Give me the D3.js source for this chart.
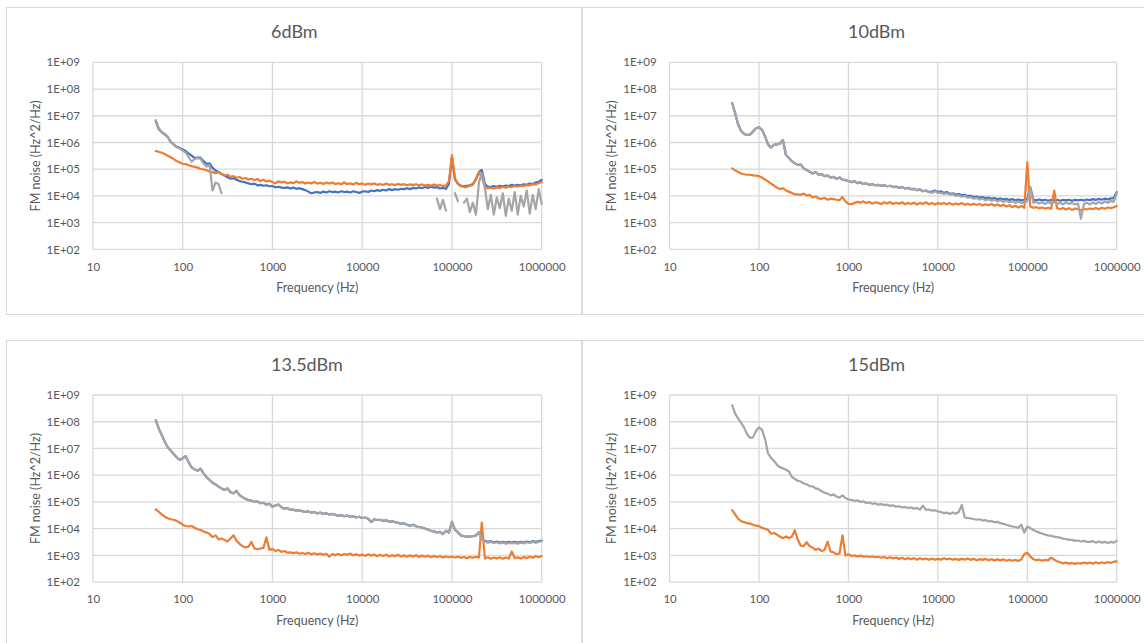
<!DOCTYPE html>
<html lang="en">
<head>
    <meta charset="UTF-8">
    <title>FM noise</title>
    <script src="https://d3js.org/d3.v7.min.js" type="text/JavaScript"></script>
    <style>
        body { margin: 0; background: #fff; }
        text { font-family: Lato, "Open Sans", sans-serif; fill: #595959; }
    </style>
</head>
<body>
<svg height="643" id="noise-chart" width="1144"></svg>
<script>
    // frequency grid (Hz), shared by every trace
    var freq = [
        50.1, 54.1, 58.5, 63.1, 68.1, 73.6, 79.4, 85.8, 92.6, 100,
        108, 117, 126, 136, 147, 158, 171, 185, 200, 215,
        233, 251, 271, 293, 316, 341, 369, 398, 430, 464,
        501, 541, 584, 631, 681, 736, 794, 858, 926, 1000,
        1080, 1170, 1260, 1360, 1470, 1580, 1710, 1850, 2000, 2150,
        2330, 2510, 2710, 2930, 3160, 3410, 3690, 3980, 4300, 4640,
        5010, 5410, 5840, 6310, 6810, 7360, 7940, 8580, 9260, 10000,
        10800, 11700, 12600, 13600, 14700, 15800, 17100, 18500, 20000, 21500,
        23300, 25100, 27100, 29300, 31600, 34100, 36900, 39800, 43000, 46400,
        50100, 54100, 58400, 63100, 68100, 73600, 79400, 85800, 92600, 100000,
        108000, 117000, 126000, 136000, 147000, 158000, 171000, 185000, 200000, 215000,
        233000, 251000, 271000, 293000, 316000, 341000, 369000, 398000, 430000, 464000,
        501000, 541000, 584000, 631000, 681000, 736000, 794000, 858000, 926000, 1000000
    ];

    var tickX = [10, 100, 1000, 10000, 100000, 1000000];
    var tickY = [1e2, 1e3, 1e4, 1e5, 1e6, 1e7, 1e8, 1e9];
    var titles = ['6dBm', '10dBm', '13.5dBm', '15dBm'];

    // ---- 6dBm ----
    var blue6 = [
        6.3e6, 3.2e6, 2.4e6, 2.0e6, 1.6e6, 1.05e6, 8.5e5, 6.9e5, 6.3e5, 5.5e5,
        4.8e5, 3.8e5, 3.2e5, 2.6e5, 2.75e5, 2.7e5, 2.0e5, 1.6e5, 1.65e5, 1.12e5,
        8.9e4, 7.9e4, 6.6e4, 5.8e4, 5.0e4, 4.4e4, 4.6e4, 4.0e4, 3.6e4, 3.4e4,
        3.2e4, 2.95e4, 2.75e4, 2.9e4, 2.5e4, 2.6e4, 2.4e4, 2.5e4, 2.3e4, 2.35e4,
        2.1e4, 2.2e4, 2.05e4, 2.0e4, 2.1e4, 1.9e4, 2.05e4, 1.85e4, 1.95e4, 1.8e4,
        1.65e4, 1.45e4, 1.26e4, 1.35e4, 1.4e4, 1.3e4, 1.45e4, 1.35e4, 1.5e4, 1.4e4,
        1.45e4, 1.35e4, 1.5e4, 1.4e4, 1.45e4, 1.35e4, 1.5e4, 1.4e4, 1.3e4, 1.45e4,
        1.5e4, 1.4e4, 1.6e4, 1.5e4, 1.65e4, 1.55e4, 1.7e4, 1.6e4, 1.8e4, 1.65e4,
        1.8e4, 1.7e4, 1.85e4, 1.8e4, 1.95e4, 1.8e4, 2.0e4, 1.9e4, 2.1e4, 1.95e4,
        2.15e4, 2.0e4, 2.2e4, 2.05e4, 2.15e4, 1.9e4, 2.0e4, 1.85e4, 2.8e4, 2.8e5,
        4.2e4, 2.8e4, 2.4e4, 2.3e4, 2.4e4, 2.5e4, 2.8e4, 4.2e4, 7.9e4, 9.5e4,
        2.8e4, 2.2e4, 2.2e4, 2.35e4, 2.2e4, 2.4e4, 2.3e4, 2.45e4, 2.35e4, 2.6e4,
        2.45e4, 2.6e4, 2.5e4, 2.75e4, 2.6e4, 2.9e4, 2.8e4, 3.2e4, 3.4e4, 4.0e4
    ];
    var orange6 = [
        4.8e5, 4.5e5, 4.1e5, 3.7e5, 3.2e5, 2.8e5, 2.4e5, 2.0e5, 1.8e5, 1.6e5,
        1.55e5, 1.4e5, 1.3e5, 1.23e5, 1.15e5, 1.02e5, 9.8e4, 9.1e4, 8.1e4, 7.8e4,
        7.1e4, 7.8e4, 6.5e4, 5.8e4, 6.2e4, 5.2e4, 5.5e4, 4.8e4, 5.1e4, 4.4e4,
        4.7e4, 4.1e4, 4.4e4, 3.9e4, 4.3e4, 3.6e4, 4.0e4, 3.5e4, 3.7e4, 3.3e4,
        2.95e4, 3.55e4, 3.2e4, 3.4e4, 2.95e4, 3.2e4, 3.0e4, 3.5e4, 3.1e4, 3.3e4,
        2.9e4, 3.2e4, 2.95e4, 3.3e4, 2.9e4, 3.1e4, 2.8e4, 3.2e4, 2.9e4, 3.2e4,
        2.8e4, 3.0e4, 2.75e4, 3.2e4, 2.8e4, 2.95e4, 2.7e4, 3.1e4, 2.75e4, 2.95e4,
        2.6e4, 2.9e4, 2.7e4, 2.95e4, 2.6e4, 2.8e4, 2.55e4, 2.9e4, 2.6e4, 2.75e4,
        2.55e4, 2.8e4, 2.6e4, 2.75e4, 2.5e4, 2.7e4, 2.55e4, 2.75e4, 2.5e4, 2.7e4,
        2.45e4, 2.6e4, 2.4e4, 2.7e4, 2.45e4, 2.55e4, 2.35e4, 2.5e4, 3.5e4, 3.4e5,
        4.6e4, 2.75e4, 2.3e4, 2.15e4, 2.2e4, 2.4e4, 2.6e4, 4.2e4, 7.8e4, 5.0e4,
        2.2e4, 1.95e4, 2.05e4, 1.9e4, 2.1e4, 2.0e4, 2.2e4, 2.05e4, 2.25e4, 2.15e4,
        2.35e4, 2.25e4, 2.45e4, 2.35e4, 2.55e4, 2.5e4, 2.75e4, 2.7e4, 3.0e4, 3.3e4
    ];
    var gray6 = [
        6.9e6, 3.5e6, 2.5e6, 2.1e6, 1.7e6, 1.05e6, 8.3e5, 6.6e5, 6.0e5, 5.0e5,
        4.2e5, 2.8e5, 1.9e5, 2.4e5, 2.6e5, 2.5e5, 1.6e5, 1.26e5, 1.4e5, 1.6e4,
        3.2e4, 2.8e4, 1.26e4, null, null, null, null, null, null, null,
        null, null, null, null, null, null, null, null, null, null,
        null, null, null, null, null, null, null, null, null, null,
        null, null, null, null, null, null, null, null, null, null,
        null, null, null, null, null, null, null, null, null, null,
        null, null, null, null, null, null, null, null, null, null,
        null, null, null, null, null, null, null, null, null, null,
        null, null, null, null, 7.9e3, 3.2e3, 7.1e3, 2.8e3, null, null,
        1.26e4, 6.3e3, null, 5.6e3, 7.9e3, 2.5e3, 5.6e3, 2.0e3, 3.2e4, 7.1e4,
        2.0e4, 3.2e3, 1.1e4, 2.0e3, 8.9e3, 3.5e3, 1.26e4, 1.8e3, 7.9e3, 2.8e3,
        1.4e4, 2.0e3, 1.0e4, 4.0e3, 1.6e4, 2.2e3, 1.1e4, 3.2e3, 1.8e4, 5.0e3
    ];

    // ---- 10dBm ----
    var blue10 = [
        3.0e7, 1.23e7, 4.6e6, 2.7e6, 2.1e6, 1.9e6, 2.0e6, 2.6e6, 3.4e6, 3.7e6,
        3.0e6, 1.66e6, 8.5e5, 6.5e5, 8.1e5, 8.5e5, 9.1e5, 1.23e6, 3.4e5, 2.7e5,
        2.0e5, 1.66e5, 1.45e5, 1.5e5, 1.07e5, 9.3e4, 8.1e4, 6.9e4, 7.8e4, 6.2e4,
        6.5e4, 5.5e4, 5.8e4, 4.9e4, 5.2e4, 4.4e4, 4.9e4, 4.1e4, 3.9e4, 3.6e4,
        3.3e4, 3.55e4, 3.0e4, 3.2e4, 2.8e4, 2.95e4, 2.6e4, 2.75e4, 2.5e4, 2.6e4,
        2.4e4, 2.5e4, 2.3e4, 2.4e4, 2.15e4, 2.25e4, 2.0e4, 2.15e4, 1.9e4, 2.0e4,
        1.8e4, 1.85e4, 1.65e4, 1.75e4, 1.5e4, 1.6e4, 1.4e4, 1.45e4, 1.6e4, 1.4e4,
        1.5e4, 1.3e4, 1.4e4, 1.2e4, 1.26e4, 1.12e4, 1.17e4, 1.05e4, 1.1e4, 9.8e3,
        1.02e4, 9.1e3, 9.5e3, 8.7e3, 9.1e3, 8.3e3, 8.7e3, 7.9e3, 8.3e3, 7.6e3,
        7.9e3, 7.4e3, 7.8e3, 7.1e3, 7.6e3, 6.9e3, 7.4e3, 6.8e3, 7.2e3, 7.9e3,
        2.1e4, 7.2e3, 6.9e3, 7.4e3, 6.8e3, 7.2e3, 6.6e3, 7.1e3, 6.8e3, 7.2e3,
        6.6e3, 7.1e3, 6.8e3, 7.2e3, 6.6e3, 7.1e3, 6.9e3, 7.2e3, 6.8e3, 7.4e3,
        6.9e3, 7.6e3, 7.1e3, 7.8e3, 7.2e3, 7.9e3, 7.4e3, 8.1e3, 8.3e3, 1.4e4
    ];
    var orange10 = [
        1.07e5, 9.1e4, 7.8e4, 6.9e4, 6.5e4, 6.2e4, 6.2e4, 5.9e4, 5.8e4, 5.5e4,
        4.9e4, 4.1e4, 3.5e4, 2.9e4, 2.45e4, 2.05e4, 1.8e4, 1.95e4, 1.6e4, 1.45e4,
        1.3e4, 1.15e4, 1.15e4, 1.1e4, 1.23e4, 1.02e4, 1.1e4, 8.7e3, 9.5e3, 8.1e3,
        7.8e3, 8.5e3, 7.2e3, 7.9e3, 7.6e3, 7.2e3, 6.9e3, 9.1e3, 6.2e3, 5.1e3,
        4.9e3, 5.5e3, 6.0e3, 5.6e3, 6.3e3, 5.4e3, 6.0e3, 5.1e3, 5.8e3, 5.5e3,
        5.0e3, 5.8e3, 5.2e3, 5.9e3, 5.0e3, 5.6e3, 5.1e3, 5.8e3, 4.9e3, 5.5e3,
        5.0e3, 5.6e3, 4.8e3, 5.5e3, 5.0e3, 5.8e3, 4.9e3, 5.5e3, 4.8e3, 5.4e3,
        5.0e3, 5.5e3, 4.9e3, 5.4e3, 4.7e3, 5.2e3, 4.8e3, 5.4e3, 4.7e3, 5.1e3,
        4.6e3, 5.1e3, 4.7e3, 5.0e3, 4.4e3, 4.9e3, 4.5e3, 5.0e3, 4.3e3, 4.8e3,
        4.2e3, 4.7e3, 4.0e3, 4.5e3, 3.8e3, 4.3e3, 3.7e3, 4.2e3, 3.6e3, 1.8e5,
        4.0e3, 3.6e3, 3.8e3, 3.5e3, 3.7e3, 3.4e3, 3.6e3, 3.3e3, 1.6e4, 3.55e3,
        3.2e3, 3.55e3, 3.1e3, 3.5e3, 3.0e3, 3.4e3, 3.2e3, 2.9e3, 3.3e3, 3.1e3,
        3.4e3, 3.2e3, 3.55e3, 3.2e3, 3.6e3, 3.3e3, 3.7e3, 3.5e3, 3.8e3, 4.2e3
    ];
    var gray10 = [
        3.0e7, 1.23e7, 4.6e6, 2.7e6, 2.1e6, 1.9e6, 2.0e6, 2.6e6, 3.4e6, 3.7e6,
        3.0e6, 1.66e6, 8.5e5, 6.5e5, 8.1e5, 8.5e5, 9.1e5, 1.23e6, 3.4e5, 2.7e5,
        2.0e5, 1.66e5, 1.45e5, 1.5e5, 1.07e5, 9.3e4, 8.1e4, 6.9e4, 7.8e4, 6.2e4,
        6.5e4, 5.5e4, 5.8e4, 4.9e4, 5.2e4, 4.4e4, 4.9e4, 4.1e4, 3.9e4, 3.6e4,
        3.3e4, 3.55e4, 3.0e4, 3.2e4, 2.8e4, 2.95e4, 2.6e4, 2.75e4, 2.5e4, 2.6e4,
        2.4e4, 2.5e4, 2.3e4, 2.4e4, 2.15e4, 2.25e4, 2.0e4, 2.15e4, 1.9e4, 2.0e4,
        1.8e4, 1.85e4, 1.65e4, 1.75e4, 1.5e4, 1.6e4, 1.4e4, 1.3e4, 1.5e4, 1.3e4,
        1.3e4, 1.2e4, 1.26e4, 1.12e4, 1.17e4, 1.0e4, 1.07e4, 9.3e3, 1.0e4, 8.7e3,
        9.1e3, 7.9e3, 8.5e3, 7.4e3, 7.9e3, 6.9e3, 7.6e3, 6.6e3, 7.2e3, 6.3e3,
        6.9e3, 6.0e3, 6.6e3, 5.8e3, 6.3e3, 5.5e3, 6.2e3, 5.4e3, 5.9e3, 6.3e3,
        2.0e4, 5.6e3, 6.0e3, 5.2e3, 5.8e3, 5.0e3, 5.9e3, 5.2e3, 6.0e3, 5.0e3,
        5.6e3, 4.8e3, 5.8e3, 5.0e3, 5.5e3, 4.8e3, 5.2e3, 1.4e3, 5.0e3, 5.6e3,
        4.8e3, 5.8e3, 5.0e3, 6.0e3, 5.2e3, 6.3e3, 5.5e3, 6.6e3, 6.0e3, 1.3e4
    ];

    // ---- 13.5dBm ----
    var blue13 = [
        1.15e8, 5.6e7, 3.2e7, 1.8e7, 1.1e7, 8.3e6, 6.2e6, 4.7e6, 3.7e6, 4.3e6,
        5.2e6, 3.0e6, 1.95e6, 1.65e6, 1.45e6, 1.75e6, 1.17e6, 8.3e5, 6.6e5, 5.2e5,
        4.5e5, 3.7e5, 3.2e5, 2.8e5, 3.2e5, 2.3e5, 2.1e5, 2.6e5, 1.8e5, 1.5e5,
        1.3e5, 1.17e5, 1.12e5, 1.0e5, 1.05e5, 8.9e4, 9.3e4, 7.9e4, 8.5e4, 6.6e4,
        7.4e4, 7.9e4, 6.3e4, 5.6e4, 5.9e4, 5.0e4, 5.2e4, 4.7e4, 4.9e4, 4.5e4,
        4.2e4, 4.4e4, 4.0e4, 4.2e4, 3.7e4, 4.0e4, 3.55e4, 3.8e4, 3.4e4, 3.55e4,
        3.3e4, 3.0e4, 3.2e4, 2.9e4, 3.1e4, 2.75e4, 2.95e4, 2.6e4, 2.8e4, 2.5e4,
        2.6e4, 2.35e4, 1.75e4, 2.25e4, 2.1e4, 2.15e4, 1.95e4, 2.05e4, 1.8e4, 1.9e4,
        1.75e4, 1.65e4, 1.5e4, 1.6e4, 1.4e4, 1.3e4, 1.4e4, 1.23e4, 1.15e4, 1.1e4,
        1.0e4, 9.3e3, 8.3e3, 7.9e3, 7.2e3, 7.6e3, 6.3e3, 8.3e3, 7.1e3, 1.8e4,
        9.3e3, 7.1e3, 5.6e3, 5.2e3, 5.0e3, 5.0e3, 5.2e3, 5.6e3, 7.4e3, 4.0e3,
        3.5e3, 3.2e3, 3.4e3, 3.1e3, 3.3e3, 3.0e3, 3.2e3, 3.0e3, 3.2e3, 3.0e3,
        3.2e3, 3.0e3, 3.2e3, 3.0e3, 3.3e3, 3.1e3, 3.4e3, 3.2e3, 3.4e3, 3.6e3
    ];
    var orange13 = [
        5.2e4, 4.3e4, 3.4e4, 2.8e4, 2.45e4, 2.25e4, 2.15e4, 1.95e4, 1.7e4, 1.4e4,
        1.26e4, 1.2e4, 1.26e4, 1.07e4, 9.5e3, 8.9e3, 7.8e3, 7.1e3, 6.3e3, 4.8e3,
        5.6e3, 4.0e3, 4.3e3, 3.8e3, 3.3e3, 4.3e3, 5.6e3, 3.55e3, 2.7e3, 2.2e3,
        2.0e3, 2.1e3, 3.2e3, 1.8e3, 1.7e3, 1.8e3, 1.9e3, 4.7e3, 1.6e3, 1.75e3,
        1.45e3, 1.6e3, 1.35e3, 1.45e3, 1.26e3, 1.3e3, 1.2e3, 1.3e3, 1.15e3, 1.23e3,
        1.12e3, 1.26e3, 1.1e3, 1.2e3, 1.07e3, 1.17e3, 1.05e3, 1.15e3, 8.9e2, 1.12e3,
        1.02e3, 1.15e3, 1.0e3, 1.12e3, 1.05e3, 1.17e3, 1.0e3, 1.1e3, 9.8e2, 1.07e3,
        9.5e2, 1.1e3, 9.8e2, 1.07e3, 9.3e2, 1.05e3, 9.5e2, 1.07e3, 9.1e2, 1.02e3,
        9.3e2, 1.05e3, 9.1e2, 1.0e3, 8.9e2, 1.0e3, 9.1e2, 1.02e3, 8.7e2, 9.8e2,
        8.9e2, 9.8e2, 8.5e2, 9.5e2, 8.7e2, 9.3e2, 8.3e2, 9.1e2, 8.5e2, 8.9e2,
        8.3e2, 8.9e2, 8.1e2, 8.7e2, 7.9e2, 8.7e2, 8.1e2, 8.9e2, 8.3e2, 1.7e4,
        7.6e2, 8.5e2, 7.4e2, 8.3e2, 7.6e2, 8.5e2, 7.4e2, 8.3e2, 7.6e2, 1.4e3,
        7.8e2, 8.5e2, 7.6e2, 8.7e2, 7.9e2, 8.9e2, 8.1e2, 9.3e2, 8.5e2, 9.5e2
    ];
    var gray13 = [
        1.15e8, 5.6e7, 3.2e7, 1.8e7, 1.1e7, 8.3e6, 6.2e6, 4.7e6, 3.7e6, 4.3e6,
        5.2e6, 3.0e6, 1.95e6, 1.65e6, 1.45e6, 1.75e6, 1.17e6, 8.3e5, 6.6e5, 5.2e5,
        4.5e5, 3.7e5, 3.2e5, 2.8e5, 3.2e5, 2.3e5, 2.1e5, 2.6e5, 1.8e5, 1.5e5,
        1.3e5, 1.17e5, 1.12e5, 1.0e5, 1.05e5, 8.9e4, 9.3e4, 7.9e4, 8.5e4, 6.6e4,
        7.4e4, 7.9e4, 6.3e4, 5.6e4, 5.9e4, 5.0e4, 5.2e4, 4.7e4, 4.9e4, 4.5e4,
        4.2e4, 4.4e4, 4.0e4, 4.2e4, 3.7e4, 4.0e4, 3.55e4, 3.8e4, 3.4e4, 3.55e4,
        3.3e4, 3.0e4, 3.2e4, 2.9e4, 3.1e4, 2.75e4, 2.95e4, 2.6e4, 2.8e4, 2.5e4,
        2.6e4, 2.35e4, 1.75e4, 2.25e4, 2.1e4, 2.15e4, 1.95e4, 2.05e4, 1.8e4, 1.9e4,
        1.75e4, 1.65e4, 1.5e4, 1.6e4, 1.4e4, 1.3e4, 1.4e4, 1.23e4, 1.15e4, 1.1e4,
        1.0e4, 9.3e3, 8.3e3, 7.9e3, 7.2e3, 7.6e3, 6.3e3, 8.3e3, 7.1e3, 1.8e4,
        9.3e3, 7.1e3, 5.6e3, 5.2e3, 5.0e3, 5.0e3, 5.2e3, 5.6e3, 7.4e3, 4.0e3,
        3.3e3, 3.0e3, 3.2e3, 2.9e3, 3.1e3, 2.8e3, 3.0e3, 2.75e3, 2.95e3, 2.8e3,
        2.95e3, 2.75e3, 3.0e3, 2.8e3, 3.1e3, 2.9e3, 3.2e3, 2.95e3, 3.2e3, 3.4e3
    ];

    // ---- 15dBm ----
    var orange15 = [
        4.9e4, 3.4e4, 2.3e4, 1.9e4, 1.75e4, 1.6e4, 1.55e4, 1.4e4, 1.3e4, 1.23e4,
        1.07e4, 9.8e3, 9.1e3, 6.5e3, 6.9e3, 6.0e3, 5.1e3, 4.4e3, 5.1e3, 4.5e3,
        5.0e3, 8.7e3, 3.9e3, 2.3e3, 2.2e3, 3.1e3, 2.2e3, 1.95e3, 1.6e3, 1.8e3,
        1.45e3, 1.6e3, 3.3e3, 1.4e3, 1.3e3, 1.1e3, 1.17e3, 5.6e3, 9.8e2, 1.1e3,
        9.5e2, 1.0e3, 9.1e2, 9.8e2, 8.9e2, 9.3e2, 8.7e2, 9.1e2, 8.5e2, 8.9e2,
        8.1e2, 8.7e2, 7.8e2, 8.5e2, 7.6e2, 8.3e2, 7.4e2, 8.1e2, 7.2e2, 7.9e2,
        7.2e2, 7.9e2, 6.9e2, 7.8e2, 7.1e2, 7.6e2, 6.8e2, 7.6e2, 6.9e2, 7.4e2,
        6.9e2, 7.8e2, 7.1e2, 7.6e2, 6.9e2, 7.4e2, 6.8e2, 7.4e2, 6.9e2, 7.6e2,
        6.8e2, 7.4e2, 6.6e2, 7.2e2, 6.8e2, 7.4e2, 6.6e2, 7.2e2, 6.5e2, 7.1e2,
        6.5e2, 7.1e2, 6.3e2, 6.9e2, 6.3e2, 6.8e2, 6.2e2, 7.1e2, 1.12e3, 1.26e3,
        8.9e2, 7.2e2, 6.6e2, 6.9e2, 6.3e2, 6.8e2, 6.5e2, 8.3e2, 6.9e2, 6.0e2,
        5.5e2, 5.0e2, 5.4e2, 4.9e2, 5.2e2, 4.8e2, 5.2e2, 4.9e2, 5.4e2, 5.0e2,
        5.4e2, 4.9e2, 5.5e2, 5.0e2, 5.5e2, 5.1e2, 5.6e2, 5.2e2, 5.8e2, 6.0e2
    ];
    var gray15 = [
        4.1e8, 2.0e8, 1.3e8, 9.1e7, 6.0e7, 3.4e7, 2.5e7, 2.6e7, 4.5e7, 6.2e7,
        5.1e7, 2.2e7, 6.5e6, 4.5e6, 3.4e6, 2.5e6, 2.0e6, 1.8e6, 1.6e6, 1.4e6,
        8.7e5, 7.2e5, 6.2e5, 5.8e5, 4.9e5, 4.6e5, 3.9e5, 3.8e5, 3.2e5, 3.0e5,
        2.5e5, 2.2e5, 2.05e5, 1.75e5, 1.9e5, 1.6e5, 1.45e5, 1.75e5, 1.4e5, 1.23e5,
        1.2e5, 1.1e5, 1.15e5, 1.0e5, 1.05e5, 9.1e4, 9.5e4, 8.5e4, 8.9e4, 7.9e4,
        8.3e4, 7.6e4, 7.9e4, 7.1e4, 7.4e4, 6.6e4, 6.9e4, 6.2e4, 6.5e4, 5.9e4,
        6.2e4, 5.6e4, 5.9e4, 5.2e4, 7.2e4, 5.0e4, 5.2e4, 4.7e4, 4.9e4, 4.4e4,
        4.2e4, 3.8e4, 4.0e4, 3.55e4, 4.0e4, 3.6e4, 4.2e4, 7.6e4, 2.6e4, 2.5e4,
        2.4e4, 2.3e4, 2.15e4, 2.25e4, 2.0e4, 2.1e4, 1.85e4, 1.95e4, 1.75e4, 1.8e4,
        1.6e4, 1.5e4, 1.4e4, 1.3e4, 1.2e4, 1.15e4, 1.07e4, 1.4e4, 7.1e3, 1.2e4,
        1.05e4, 8.9e3, 7.9e3, 7.1e3, 6.6e3, 6.0e3, 5.6e3, 5.4e3, 5.0e3, 4.8e3,
        4.6e3, 4.2e3, 4.1e3, 3.8e3, 3.8e3, 3.5e3, 3.6e3, 3.3e3, 3.5e3, 3.2e3,
        3.2e3, 3.4e3, 3.0e3, 3.3e3, 3.0e3, 3.2e3, 2.9e3, 3.2e3, 3.0e3, 3.5e3
    ];

    var BLUE = '#4472C4', ORANGE = '#ED7D31', GRAY = '#A5A5A5';

    // panel placement (left/right column, top/bottom row)
    var panels = [
        {title: titles[0], bx: 6.5, by: 7.5, tx: 271, x0: 92.9, x1: 541.7, y0: 62.3, y1: 249.4,
            series: [[blue6, BLUE], [orange6, ORANGE], [gray6, GRAY]]},
        {title: titles[1], bx: 582.5, by: 7.5, tx: 848, x0: 669.6, x1: 1116.7, y0: 62.3, y1: 249.4,
            series: [[blue10, BLUE], [orange10, ORANGE], [gray10, GRAY]]},
        {title: titles[2], bx: 6.5, by: 340.5, tx: 271, x0: 92.9, x1: 541.7, y0: 395, y1: 582.1,
            series: [[blue13, BLUE], [orange13, ORANGE], [gray13, GRAY]]},
        {title: titles[3], bx: 582.5, by: 340.5, tx: 848, x0: 669.6, x1: 1116.7, y0: 395, y1: 582.1,
            series: [[orange15, ORANGE], [gray15, GRAY]]}
    ];

    var svg = d3.select('#noise-chart');

    function expLabel(v) {
        var e = Math.round(Math.log10(v));
        return '1E+' + (e < 10 ? '0' + e : e);
    }

    panels.forEach(function (p) {
        var g = svg.append('g');

        g.append('rect')
            .attr('x', p.bx).attr('y', p.by)
            .attr('width', 575).attr('height', 307)
            .attr('fill', '#fff').attr('stroke', '#d9d9d9').attr('stroke-width', 1);

        var x = d3.scaleLog().domain([10, 1e6]).range([p.x0, p.x1]);
        var y = d3.scaleLog().domain([1e2, 1e9]).range([p.y1, p.y0]);

        // grid
        g.selectAll('line.gx').data(tickX).enter().append('line')
            .attr('class', 'gx')
            .attr('x1', d => x(d)).attr('x2', d => x(d))
            .attr('y1', p.y0).attr('y2', p.y1)
            .attr('stroke', '#d9d9d9').attr('stroke-width', 1.3);
        g.selectAll('line.gy').data(tickY).enter().append('line')
            .attr('class', 'gy')
            .attr('x1', p.x0).attr('x2', p.x1)
            .attr('y1', d => y(d)).attr('y2', d => y(d))
            .attr('stroke', '#d9d9d9').attr('stroke-width', 1.3);

        // axes (labels only)
        var ax = g.append('g').attr('transform', 'translate(0,' + p.y1 + ')')
            .call(d3.axisBottom(x).tickValues(tickX).tickFormat(d3.format('d')).tickSize(0).tickPadding(13));
        var ay = g.append('g').attr('transform', 'translate(' + p.x0 + ',0)')
            .call(d3.axisLeft(y).tickValues(tickY).tickFormat(expLabel).tickSize(0).tickPadding(13));
        [ax, ay].forEach(function (a) {
            a.select('.domain').remove();
            a.selectAll('text').attr('font-family', null).style('font-size', '11.5px').attr('fill', '#595959');
            a.attr('font-family', null).attr('font-size', null);
        });

        // traces
        var line = d3.line()
            .defined(d => d[1] != null)
            .x(d => x(d[0]))
            .y(d => y(d[1]));
        p.series.forEach(function (s) {
            g.append('path')
                .datum(freq.map((f, i) => [f, s[0][i]]))
                .attr('d', line)
                .attr('fill', 'none')
                .attr('stroke', s[1])
                .attr('stroke-width', 2.2)
                .attr('stroke-linejoin', 'round')
                .attr('stroke-linecap', 'round');
        });

        // titles
        g.append('text')
            .attr('x', p.tx).attr('y', p.by + 30.5)
            .style('font-size', '18px')
            .text(p.title);
        g.append('text')
            .attr('x', (p.x0 + p.x1) / 2).attr('y', p.y1 + 42.5)
            .attr('text-anchor', 'middle')
            .style('font-size', '12.5px')
            .text('Frequency (Hz)');
        g.append('text')
            .attr('transform', 'translate(' + (p.x0 - 57.5) + ',' + ((p.y0 + p.y1) / 2) + ') rotate(-90)')
            .attr('text-anchor', 'middle')
            .attr('dy', '0.35em')
            .style('font-size', '12.5px')
            .text('FM noise (Hz^2/Hz)');
    });
</script>
</body>
</html>
